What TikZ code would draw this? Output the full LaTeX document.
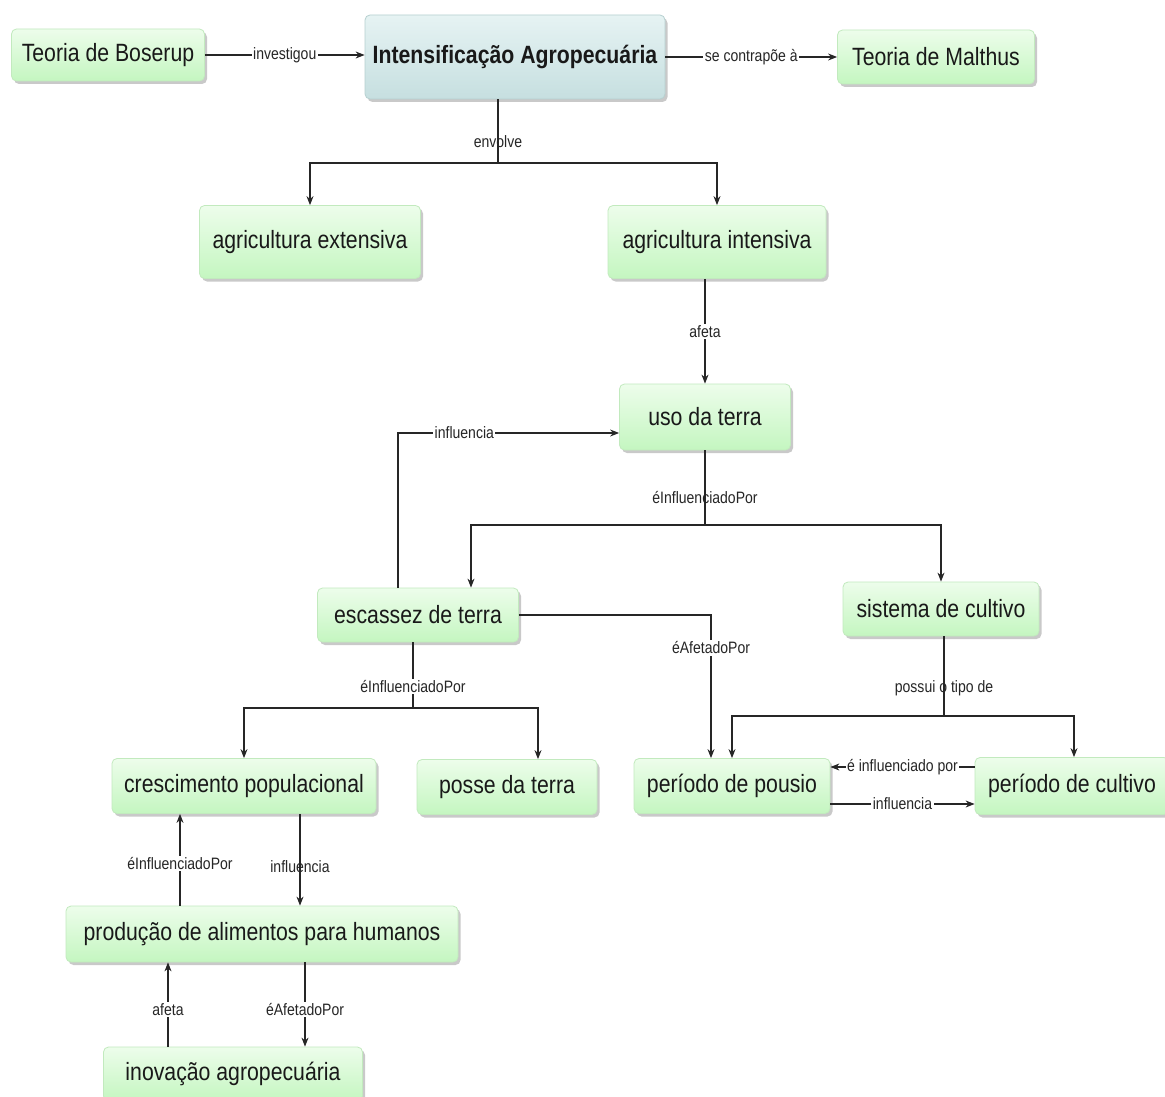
\documentclass[tikz,border=0pt]{standalone}
\usepackage{fontspec}
\usetikzlibrary{arrows.meta,shadows}
\newfontfamily\conceptfont[FakeStretch=0.85]{Liberation Sans}
\newfontfamily\linkfont[FakeStretch=0.85]{Liberation Sans}
\definecolor{nodetop}{HTML}{EDFDEB}
\definecolor{nodebot}{HTML}{C4F6C0}
\definecolor{nodeline}{HTML}{C2EABE}
\definecolor{roottop}{HTML}{E6F3F3}
\definecolor{rootbot}{HTML}{C6DFE0}
\definecolor{rootline}{HTML}{B6D0D0}
\tikzset{
  concept/.style={draw=nodeline, line width=0.8pt, rounded corners=5pt,
    top color=nodetop, bottom color=nodebot, inner sep=0pt, align=center,
    drop shadow={shadow xshift=2.5pt, shadow yshift=-3pt, opacity=0.35, fill=black!60},
    font=\conceptfont\fontsize{25}{30}\selectfont, text=black!90},
  rootconcept/.style={concept, draw=rootline, top color=roottop, bottom color=rootbot,
    font=\conceptfont\bfseries\fontsize{25}{30}\selectfont},
  lbl/.style={font=\linkfont\fontsize{16.5}{18}\selectfont, inner sep=1.5pt, text=black!85},
  gap/.style={lbl, fill=white},
  link/.style={line width=1.1pt, draw=black!85},
  arr/.style={link, -{Stealth[length=9pt,width=7pt]}}
}
\begin{document}
\begin{tikzpicture}[x=1pt,y=-1pt]
\useasboundingbox[fill=white] (0,0) rectangle (1165,1097);

% concepts
\node[concept, minimum width=193pt, minimum height=52pt] (bos) at (108,55) {Teoria de Boserup};
\node[rootconcept, minimum width=300pt, minimum height=84pt] (int) at (515,57) {Intensificação Agropecuária};
\node[concept, minimum width=197pt, minimum height=54pt] (mal) at (936,57) {Teoria de Malthus};
\node[concept, minimum width=221pt, minimum height=73pt] (ext) at (310,242) {agricultura extensiva};
\node[concept, minimum width=218pt, minimum height=73pt] (intv) at (717,242) {agricultura intensiva};
\node[concept, minimum width=171pt, minimum height=66pt] (uso) at (705,417) {uso da terra};
\node[concept, minimum width=201pt, minimum height=54pt] (esc) at (418,615) {escassez de terra};
\node[concept, minimum width=196pt, minimum height=54pt] (sis) at (941,609) {sistema de cultivo};
\node[concept, minimum width=264pt, minimum height=55pt] (cre) at (244,786) {crescimento populacional};
\node[concept, minimum width=180pt, minimum height=55pt] (pos) at (507,787) {posse da terra};
\node[concept, minimum width=196pt, minimum height=55pt] (pou) at (732,786) {período de pousio};
\node[concept, minimum width=194pt, minimum height=57pt] (cul) at (1072,786) {período de cultivo};
\node[concept, minimum width=392pt, minimum height=56pt] (pro) at (262,934) {produção de alimentos para humanos};
\node[concept, minimum width=259pt, minimum height=54pt] (ino) at (233,1074) {inovação agropecuária};

% junctions of the branching links
\coordinate (j1) at (498,163);
\coordinate (j2) at (705,525);
\coordinate (j3) at (413,708);
\coordinate (j4) at (944,716);

% top row
\draw[arr] (bos.east) -- node[gap]{investigou} (bos.east -| int.west);
\draw[arr] (int.east) -- node[gap]{se contrapõe à} (mal.west);

% envolve
\draw[link] (int.south -| j1) -- node[lbl, pos=0.67]{envolve} (j1);
\draw[arr] (j1) -| (ext.north);
\draw[arr] (j1) -| (intv.north);

% afeta
\draw[arr] (intv.south -| uso.north) -- node[gap]{afeta} (uso.north);

% uso da terra branches
\draw[link] (uso.south) -- node[lbl, pos=0.63]{éInfluenciadoPor} (j2);
\draw[arr] (j2) -| (esc.north -| 471,0);
\draw[arr] (j2) -| (sis.north);

% escassez de terra links
\draw[arr] (esc.north -| 398,0) |- node[gap, pos=0.65]{influencia} (uso.west |- 0,433);
\draw[arr] (esc.east) -| node[gap, pos=0.615]{éAfetadoPor} (pou.north -| 711,0);
\draw[link] (esc.south -| j3) -- node[gap, pos=0.67]{éInfluenciadoPor} (j3);
\draw[arr] (j3) -| (cre.north);
\draw[arr] (j3) -| (pos.north -| 538,0);

% sistema de cultivo branches
\draw[link] (sis.south -| j4) -- node[lbl, pos=0.65]{possui o tipo de} (j4);
\draw[arr] (j4) -| (pou.north);
\draw[arr] (j4) -| (cul.north -| 1074,0);

% pousio / cultivo
\draw[arr] (cul.west |- 0,767) -- node[gap]{é influenciado por} (pou.east |- 0,767);
\draw[arr] (pou.east |- 0,804) -- node[gap]{influencia} (cul.west |- 0,804);

% population and food
\draw[arr] (pro.north -| 180,0) -- node[gap, pos=0.46]{éInfluenciadoPor} (cre.south -| 180,0);
\draw[arr] (cre.south -| 300,0) -- node[lbl, pos=0.58]{influencia} (pro.north -| 300,0);
\draw[arr] (ino.north -| 168,0) -- node[gap, pos=0.44]{afeta} (pro.south -| 168,0);
\draw[arr] (pro.south -| 305,0) -- node[gap, pos=0.56]{éAfetadoPor} (ino.north -| 305,0);
\end{tikzpicture}
\end{document}
